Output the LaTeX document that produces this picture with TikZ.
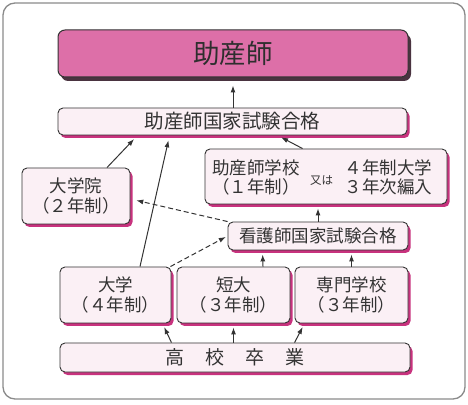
\documentclass[tikz,border=0pt]{standalone}
\usepackage{fontspec}
\setmainfont{Noto Sans CJK JP}
\usetikzlibrary{shadows,calc,arrows.meta}
\definecolor{titlefill}{HTML}{DD6FA8}
\definecolor{boxfill}{HTML}{FBF0F5}
\definecolor{pinkshadow}{HTML}{C8327E}
\definecolor{darkshadow}{HTML}{4A3340}
\definecolor{ink}{HTML}{333333}
\definecolor{framegray}{HTML}{8A8A8A}
\begin{document}
\begin{tikzpicture}[x=1pt,y=1pt,
  box/.style={draw=ink, line width=0.9pt, rounded corners=5pt, fill=boxfill, inner sep=0pt,
    text=ink, font=\fontsize{17.5}{20}\selectfont, align=center,
    drop shadow={shadow xshift=2.5pt, shadow yshift=-3pt, fill=pinkshadow, opacity=1}},
  titlebox/.style={draw=ink, line width=1pt, rounded corners=7pt, fill=titlefill, inner sep=0pt,
    text=ink!90!black, font=\fontsize{26.5}{30}\selectfont,
    drop shadow={shadow xshift=3pt, shadow yshift=-4pt, fill=darkshadow, opacity=1}},
  txt/.style={text=ink, font=\fontsize{17.5}{19.5}\selectfont, align=center, inner sep=0pt},
  smalltxt/.style={text=ink, font=\fontsize{11.5}{13}\selectfont, inner sep=0pt},
  arr/.style={draw=ink, line width=1pt, -{Latex[length=7pt,width=5pt]}},
  darr/.style={arr, dash pattern=on 5pt off 3pt},
]
\useasboundingbox (0,0) rectangle (468,404);
\draw[framegray, line width=1.3pt, rounded corners=12pt] (3,5) rectangle (465,401);

\node[titlebox, minimum width=350pt, minimum height=47pt] (title) at (233,350.5) {助産師};
\node[box, minimum width=349pt, minimum height=27pt, font=\fontsize{19.5}{22}\selectfont] (kokka) at (232.5,282.5) {助産師国家試験合格};
\node[box, minimum width=242pt, minimum height=55pt] (school) at (326,227.5) {};
\node[txt] (schoolL) at ($(school.center)+(-70,-1)$) {助産師学校\\（１年制）};
\node[smalltxt] (schoolM) at ($(school.center)+(-4.5,-4)$) {又は};
\node[txt] (schoolR) at ($(school.center)+(62.5,-1)$) {４年制大学\\３年次編入};
\node[box, minimum width=108pt, minimum height=56pt] (grad) at (76,208) {大学院\\（２年制）};
\node[box, minimum width=180pt, minimum height=28pt] (kango) at (318,168) {看護師国家試験合格};
\node[box, minimum width=111pt, minimum height=56pt] (univ) at (115.5,109) {大学\\（４年制）};
\node[box, minimum width=113pt, minimum height=56pt] (tandai) at (233.5,109) {短大\\（３年制）};
\node[box, minimum width=113pt, minimum height=56pt] (senmon) at (351.5,109) {専門学校\\（３年制）};
\node[box, minimum width=350pt, minimum height=29pt, font=\fontsize{19}{22}\selectfont] (koukou) at (235,46.5) {高\hspace{1.1em}校\hspace{1.1em}卒\hspace{1.1em}業};

% arrows
\draw[arr, shorten >=8pt] (kokka.north -| title.south) -- (title.south);
\draw[arr, shorten >=4pt] (koukou.north -| univ.south east) -- ($(univ.south east)+(-9,0)$);
\draw[arr, shorten >=4pt] (koukou.north -| tandai.south) -- (tandai.south);
\draw[arr, shorten >=4pt] (koukou.north -| senmon.south west) -- ($(senmon.south west)+(10,0)$);
\draw[arr, shorten >=5pt] ($(univ.north)+(24.5,0)$) -- ($(kokka.south west)+(112,0)$);
\draw[arr, shorten >=5pt] ($(grad.north)+(31,0)$) -- ($(kokka.south west)+(80,0)$);
\draw[arr, shorten >=4pt] ($(school.north west)+(98,0)$) -- ($(kokka.south west)+(220,0)$);
\draw[arr, shorten >=4pt] (kango.north) -- (kango.north |- school.south);
\draw[arr, shorten >=4pt] ($(tandai.north)+(29.5,0)$) -- ($(kango.south west)+(35,0)$);
\draw[arr, shorten >=4pt] (senmon.north) -- (senmon.north |- kango.south);
\draw[darr, shorten >=2pt] ($(univ.north east)+(-1,0)$) -- (kango.west);
\draw[darr, shorten >=6pt] (kango.north west) -- ($(grad.east)+(0,-3)$);
\end{tikzpicture}
\end{document}
